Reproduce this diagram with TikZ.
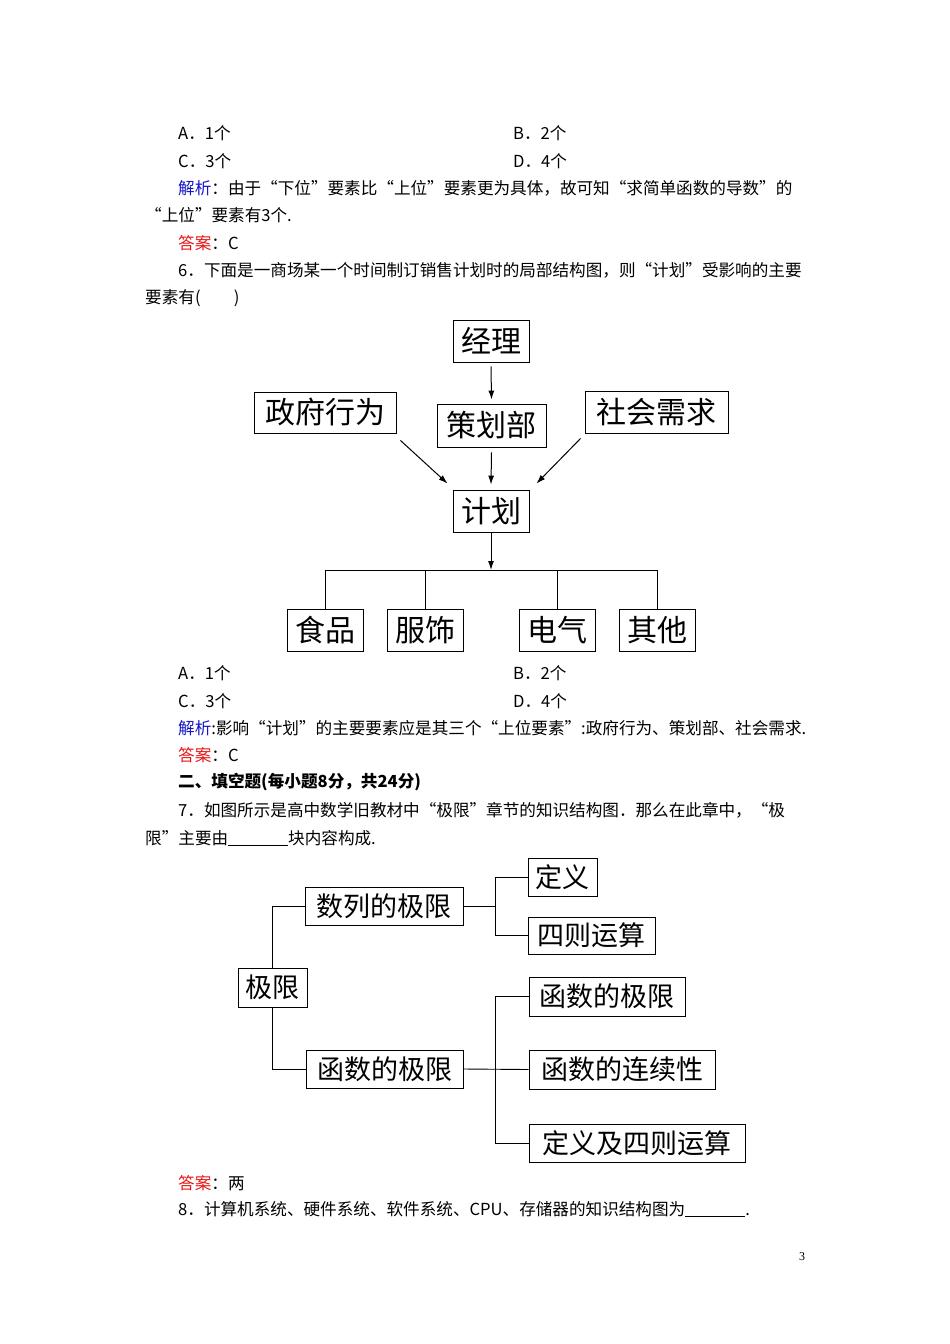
\documentclass[tikz,border=0pt]{standalone}
\usepackage{fontspec}
\usetikzlibrary{arrows.meta}
\setmainfont{Liberation Serif}
\newfontfamily\cjk{Noto Sans CJK SC}
\definecolor{jx}{RGB}{20,20,200}
\definecolor{da}{RGB}{230,20,20}
\newcommand{\blank}{\rule[-2pt]{60pt}{0.7pt}}
\begin{document}
\begin{tikzpicture}[x=1pt,y=-1pt,
  tl/.style={anchor=west,inner sep=0pt,font=\fontsize{16.6}{19}\selectfont\cjk},
  bx/.style={draw,line width=0.9pt,inner sep=0pt,font=\fontsize{30}{32}\selectfont\cjk},
  bx2/.style={draw,line width=0.9pt,inner sep=0pt,font=\fontsize{27}{30}\selectfont\cjk},
  ar/.style={-{Latex[length=9pt,width=6pt]},line width=1pt},
  ln/.style={line width=0.9pt}]
\useasboundingbox (0,0) rectangle (950,1344);
% text block 1
\node[tl] (a1) at (178,133) {A．1个};
\node[tl] (b1) at (513,133) {B．2个};
\node[tl] (c1) at (178,161) {C．3个};
\node[tl] (d1) at (513,161) {D．4个};
\node[tl] (j1) at (178,188) {{\color{jx}解析}：由于“下位”要素比“上位”要素更为具体，故可知“求简单函数的导数”的};
\node[tl] (j1b) at (145,215) {“上位”要素有3个.};
\node[tl] (d1a) at (178,243) {{\color{da}答案}：C};
\node[tl] (q6) at (178,270) {6．下面是一商场某一个时间制订销售计划时的局部结构图，则“计划”受影响的主要};
\node[tl] (q6b) at (145,298) {要素有(\hspace{2em})};
% figure 1
\node[bx,minimum width=76pt,minimum height=42pt] (jl) at (491,341) {经理};
\node[bx,minimum width=142pt,minimum height=41pt] (zf) at (325,412.5) {政府行为};
\node[bx,minimum width=109pt,minimum height=43pt] (ch) at (491.5,425.5) {策划部};
\node[bx,minimum width=143pt,minimum height=42pt] (sh) at (656.5,412) {社会需求};
\node[bx,minimum width=76pt,minimum height=42pt] (jh) at (491,511) {计划};
\node[bx,minimum width=76pt,minimum height=42pt] (sp) at (325,630) {食品};
\node[bx,minimum width=76pt,minimum height=42pt] (fs) at (425,630) {服饰};
\node[bx,minimum width=76pt,minimum height=42pt] (dq) at (557,630) {电气};
\node[bx,minimum width=76pt,minimum height=42pt] (qt) at (657,630) {其他};
\coordinate (br) at (491,570);
\draw[ar] ([yshift=-4pt]jl.south) -- ([yshift=4pt]ch.north);
\draw[ar] ([yshift=-5pt]ch.south) -- ([yshift=5pt]jh.north);
\draw[ar] ([shift={(4,7)}]zf.south east) -- ([shift={(-5,-6)}]jh.north west);
\draw[ar] ([shift={(-4,5)}]sh.south west) -- ([shift={(7,-6)}]jh.north east);
\draw[ar] (jh.south) -- (br);
\draw[ln] (sp.north) -- (sp.north|-br) -- (qt.north|-br) -- (qt.north);
\draw[ln] (fs.north) -- (fs.north|-br);
\draw[ln] (dq.north) -- (dq.north|-br);
% text block 2
\node[tl] (a2) at (178,673) {A．1个};
\node[tl] (b2) at (513,673) {B．2个};
\node[tl] (c2) at (178,701) {C．3个};
\node[tl] (d2) at (513,701) {D．4个};
\node[tl] (j2) at (178,728) {{\color{jx}解析}:影响“计划”的主要要素应是其三个“上位要素”:政府行为、策划部、社会需求.};
\node[tl] (d2a) at (178,755) {{\color{da}答案}：C};
\node[tl,font=\fontsize{16.6}{19}\selectfont\cjk\bfseries] (s2) at (178,782) {二、填空题(每小题8分，共24分)};
\node[tl] (q7) at (178,810) {7．如图所示是高中数学旧教材中“极限”章节的知识结构图．那么在此章中，“极};
\node[tl] (q7b) at (145,838) {限”主要由\blank 块内容构成.};
% figure 2
\node[bx2,minimum width=69pt,minimum height=38pt] (dy) at (562.5,877) {定义};
\node[bx2,minimum width=127pt,minimum height=37pt] (sz) at (591.5,935.5) {四则运算};
\node[bx2,minimum width=158pt,minimum height=38pt] (sl) at (384,906) {数列的极限};
\node[bx2,minimum width=69pt,minimum height=39pt] (jx) at (272.5,987.5) {极限};
\node[bx2,minimum width=156pt,minimum height=39pt] (hr) at (607,996.5) {函数的极限};
\node[bx2,minimum width=157pt,minimum height=38pt] (hm) at (384.5,1069) {函数的极限};
\node[bx2,minimum width=186pt,minimum height=39pt] (lx) at (622,1069.5) {函数的连续性};
\node[bx2,minimum width=216pt,minimum height=38pt] (dz) at (637,1143) {定义及四则运算};
\draw[ln] (jx.north) -- (jx.north|-sl.west) -- (sl.west);
\draw[ln] (jx.south) -- (jx.south|-hm.west) -- (hm.west);
\coordinate (v1) at (495,906);
\draw[ln] (sl.east) -- (v1);
\draw[ln] (dy.west) -- (dy.west-|v1) -- (sz.west-|v1) -- (sz.west);
\coordinate (v2) at (495,1069);
\draw[ln] (hm.east) -- (lx.west);
\draw[ln] (hr.west) -- (hr.west-|v2) -- (dz.west-|v2) -- (dz.west);
% text block 3
\node[tl] (d3) at (178,1183) {{\color{da}答案}：两};
\node[tl] (q8) at (178,1209) {8．计算机系统、硬件系统、软件系统、CPU、存储器的知识结构图为\blank.};
\node[anchor=center,inner sep=0pt,font=\fontsize{12}{14}\selectfont] (pg) at (802,1257) {3};
\end{tikzpicture}
\end{document}
